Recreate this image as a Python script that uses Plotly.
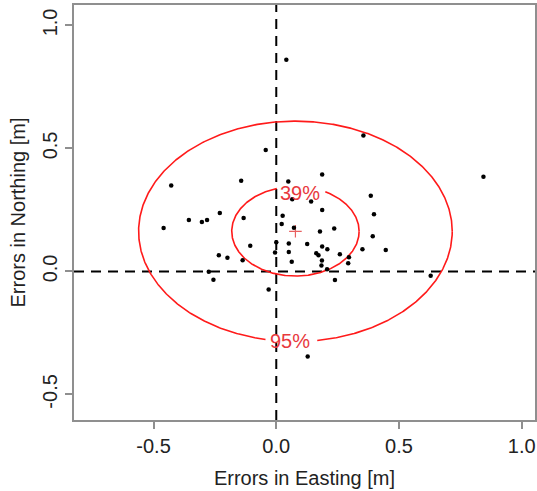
import numpy as np
import plotly.graph_objects as go

# Point errors (Easting, Northing) in metres
east = [-0.043, -0.428, -0.143, -0.459, -0.356, -0.303, -0.282, -0.230, -0.133, -0.106,
        0.049, 0.026, 0.022, 0.000, 0.051, -0.005, 0.051, -0.234, -0.199, -0.137,
        -0.275, -0.256, -0.031, 0.187, 0.065, 0.142, 0.385, 0.187, 0.398, 0.072,
        0.178, 0.236, 0.393, 0.126, 0.187, 0.208, 0.163, 0.172, 0.259, 0.351,
        0.446, 0.296, 0.186, 0.063, 0.293, 0.184, 0.207, 0.239, 0.629, 0.128,
        0.041, 0.355, 0.844]
north = [0.494, 0.349, 0.369, 0.176, 0.209, 0.201, 0.209, 0.237, 0.217, 0.104,
         0.366, 0.226, 0.193, 0.119, 0.113, 0.077, 0.079, 0.066, 0.056, 0.045,
         -0.001, -0.034, -0.074, 0.394, 0.293, 0.284, 0.308, 0.250, 0.232, 0.177,
         0.162, 0.174, 0.143, 0.111, 0.101, 0.090, 0.074, 0.066, 0.070, 0.090,
         0.087, 0.058, 0.044, 0.039, 0.033, 0.024, 0.009, -0.035, -0.018, -0.346,
         0.860, 0.553, 0.385]

# Error ellipse parameters
center = (0.078, 0.163)
sigma = (0.261, 0.183)
levels = [0.39, 0.95]
level_labels = ["39%", "95%"]
# angular gaps (degrees) where the contour label sits
label_gaps = [(62, 107), (259, 278)]
label_angles = [86, 268]

RED = "#ff1a1a"
TXT_RED = "#e8383d"
FONT = "Liberation Sans, Arial, sans-serif"
FS = 20

fig = go.Figure()

# reference dashed lines through zero
fig.add_shape(type="line", x0=0, x1=0, xref="x", y0=0, y1=1, yref="paper",
              line=dict(color="black", width=2, dash="10px,7px"), layer="below")
fig.add_shape(type="line", y0=0, y1=0, yref="y", x0=0, x1=1, xref="paper",
              line=dict(color="black", width=2, dash="10px,7px"), layer="below")

theta = np.radians(np.linspace(0, 360, 721))
for lev, lab, gap, la in zip(levels, level_labels, label_gaps, label_angles):
    r = np.sqrt(-2 * np.log(1 - lev))
    ex = center[0] + r * sigma[0] * np.cos(theta)
    ey = center[1] + r * sigma[1] * np.sin(theta)
    deg = np.degrees(theta)
    mask = (deg > gap[0]) & (deg < gap[1])
    ex = np.where(mask, np.nan, ex)
    ey = np.where(mask, np.nan, ey)
    fig.add_trace(go.Scatter(x=ex, y=ey, mode="lines", line=dict(color=RED, width=1.6),
                             hoverinfo="skip", showlegend=False, connectgaps=False))
    a = np.radians(la)
    fig.add_annotation(x=center[0] + r * sigma[0] * np.cos(a),
                       y=center[1] + r * sigma[1] * np.sin(a),
                       text=lab, showarrow=False, yshift=-6 if la < 180 else 0,
                       font=dict(family=FONT, size=FS, color=TXT_RED))

# centre marker
fig.add_trace(go.Scatter(x=[center[0]], y=[center[1]], mode="markers",
                         marker=dict(symbol="cross-thin", size=9,
                                     line=dict(color="#e86060", width=1.2)),
                         showlegend=False, hoverinfo="skip"))

# points
fig.add_trace(go.Scatter(x=east, y=north, mode="markers",
                         marker=dict(color="black", size=4.5),
                         showlegend=False))

axis_common = dict(showgrid=False, zeroline=False, showline=True, mirror=True,
                   linecolor="#8f8f8f", linewidth=1.5, ticks="outside", ticklen=7,
                   tickcolor="#8f8f8f", tickwidth=1.5, automargin=False,
                   ticklabeloverflow="allow",
                   tickfont=dict(family=FONT, size=FS, color="#222222"),
                   tickvals=[-0.5, 0.0, 0.5, 1.0], ticktext=["-0.5", "0.0", "0.5", "1.0"])

fig.update_layout(
    width=537, height=491,
    margin=dict(l=74, r=2, t=5, b=71),
    paper_bgcolor="white", plot_bgcolor="white",
    font=dict(family=FONT, size=FS, color="#222222"),
    xaxis=dict(range=[-0.824, 1.054],
               title=dict(text="Errors in Easting [m]", standoff=15,
                          font=dict(family=FONT, size=FS, color="#222222")),
               **axis_common),
    yaxis=dict(range=[-0.604, 1.083], tickangle=-90,
               title=dict(text="Errors in Northing [m]", standoff=8,
                          font=dict(family=FONT, size=FS, color="#222222")),
               **axis_common),
)

fig.write_html("out.html", config={"displayModeBar": False})

# remove default page margins so the figure fills the window exactly
with open("out.html", encoding="utf-8") as f:
    html = f.read()
html = html.replace("<body>", "<body style=\"margin:0;overflow:hidden\">", 1)
with open("out.html", "w", encoding="utf-8") as f:
    f.write(html)
